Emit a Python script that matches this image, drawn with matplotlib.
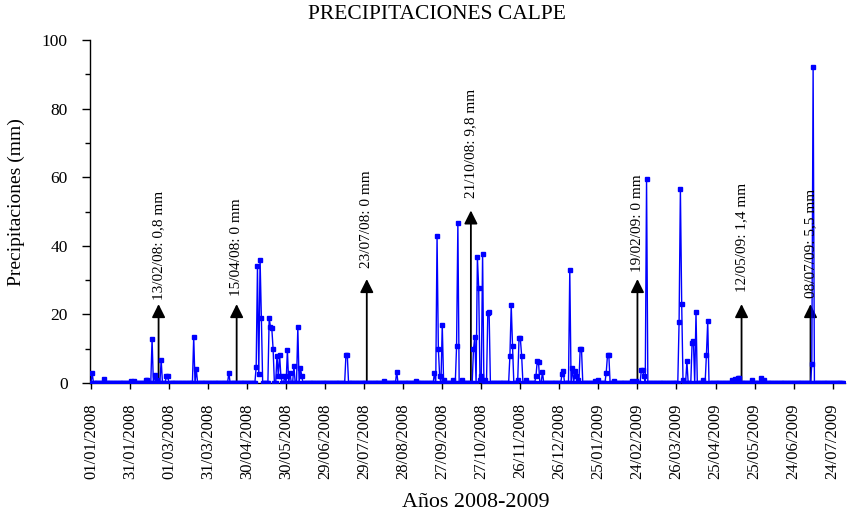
import matplotlib
matplotlib.use("Agg")
import matplotlib.pyplot as plt
import matplotlib.dates as mdates
import numpy as np
import pandas as pd

plt.rcParams['font.family'] = ['Liberation Serif', 'DejaVu Serif']

# daily record, days not listed are 0 mm
start = "2008-01-01"
end = "2009-08-01"

rain_dates = [
    "2008-01-02", "2008-01-11", "2008-02-01", "2008-02-03", "2008-02-12", "2008-02-13",
    "2008-02-17", "2008-02-19", "2008-02-21", "2008-02-24", "2008-02-28", "2008-02-29",
    "2008-03-20", "2008-03-22", "2008-04-16", "2008-05-07", "2008-05-08", "2008-05-09",
    "2008-05-10", "2008-05-11", "2008-05-17", "2008-05-18", "2008-05-19", "2008-05-20",
    "2008-05-23", "2008-05-24", "2008-05-25", "2008-05-26", "2008-05-29", "2008-05-31",
    "2008-06-02", "2008-06-05", "2008-06-08", "2008-06-10", "2008-06-11", "2008-07-15",
    "2008-07-16", "2008-08-13", "2008-08-23", "2008-09-07", "2008-09-21", "2008-09-23",
    "2008-09-24", "2008-09-25", "2008-09-27", "2008-09-28", "2008-10-05", "2008-10-08",
    "2008-10-09", "2008-10-12", "2008-10-21", "2008-10-22", "2008-10-24", "2008-10-25",
    "2008-10-26", "2008-10-27", "2008-10-28", "2008-10-30", "2008-11-01", "2008-11-02",
    "2008-11-18", "2008-11-19", "2008-11-20", "2008-11-24", "2008-11-25", "2008-11-26",
    "2008-11-27", "2008-11-30", "2008-12-08", "2008-12-09", "2008-12-10", "2008-12-13",
    "2008-12-28", "2008-12-29", "2009-01-03", "2009-01-05", "2009-01-07", "2009-01-08",
    "2009-01-09", "2009-01-11", "2009-01-12", "2009-01-22", "2009-01-25", "2009-01-31",
    "2009-02-01", "2009-02-02", "2009-02-06", "2009-02-20", "2009-02-23", "2009-02-27",
    "2009-02-28", "2009-03-01", "2009-03-03", "2009-03-28", "2009-03-29", "2009-03-30",
    "2009-03-31", "2009-04-03", "2009-04-07", "2009-04-08", "2009-04-10", "2009-04-15",
    "2009-04-18", "2009-04-19", "2009-05-08", "2009-05-10", "2009-05-12", "2009-05-13",
    "2009-05-23", "2009-05-30", "2009-06-01", "2009-07-08", "2009-07-09",
]
rain_mm = [
    2.8, 1.2, 0.5, 0.5, 1.0, 0.8,
    12.8, 2.3, 1.0, 6.7, 2.0, 1.9,
    13.4, 4.0, 3.0, 4.7, 34.0, 2.5,
    36.0, 19.0, 19.0, 16.3, 16.0, 10.0,
    8.0, 2.0, 8.2, 2.0, 2.0, 9.6,
    3.0, 5.0, 16.3, 4.5, 2.0, 8.3,
    8.3, 0.5, 3.3, 0.5, 3.0, 43.0,
    10.0, 2.0, 17.0, 1.0, 1.0, 10.7,
    46.6, 1.0, 9.8, 13.5, 36.7, 27.7,
    1.0, 2.0, 37.6, 1.0, 20.3, 20.8,
    8.0, 22.7, 10.8, 1.0, 13.0, 13.0,
    8.0, 1.0, 2.0, 6.4, 6.0, 3.3,
    2.5, 3.4, 33.0, 4.5, 3.5, 2.0,
    1.0, 10.0, 10.0, 0.5, 1.0, 3.0,
    8.2, 8.2, 0.5, 0.5, 0.5, 3.8,
    3.8, 2.0, 59.5, 17.8, 56.7, 23.0,
    1.0, 6.3, 11.8, 12.3, 20.6, 1.0,
    8.2, 18.0, 1.0, 1.2, 1.4, 1.5,
    1.0, 1.5, 1.0, 5.5, 92.0,
]

# arrows with notes
note_labels = ["13/02/08: 0,8 mm", "15/04/08: 0 mm", "23/07/08: 0 mm", "21/10/08: 9,8 mm",
               "19/02/09: 0 mm", "12/05/09: 1,4 mm", "08/07/09: 5,5 mm"]
note_dates = ["2008-02-22", "2008-04-22", "2008-07-31", "2008-10-19",
              "2009-02-24", "2009-05-15", "2009-07-07"]
note_tip = [23.0, 23.0, 30.3, 50.3, 30.3, 23.0, 23.0]
note_text_y = [24.3, 25.5, 33.5, 54.0, 32.5, 26.5, 24.8]

days = pd.date_range(start, end, freq="D")
serie = pd.Series(rain_mm, index=pd.to_datetime(rain_dates)).reindex(days, fill_value=0.0)

fig = plt.figure(figsize=(8.66, 5.23), dpi=100)
ax = fig.add_axes([90 / 866, 1 - 383 / 523, 755 / 866, 343 / 523])

ax.plot(serie.index, serie.values, color="#0000ff", lw=1.0, marker="s", ms=2.8,
        mec="#0000ff", mfc="#0000ff", zorder=3)

for lab, d, tip, ty in zip(note_labels, note_dates, note_tip, note_text_y):
    d = pd.Timestamp(d)
    ax.annotate("", xy=(d, tip), xytext=(d, 0.3),
                arrowprops=dict(arrowstyle="-|>", mutation_scale=20, color="black",
                                lw=1.3, shrinkA=0, shrinkB=0), zorder=2)
    ax.text(d, ty, lab, rotation=90, ha="center", va="bottom", fontsize=11)

x0 = mdates.date2num(pd.Timestamp(start))
ax.set_xlim(x0 - 0.7, mdates.date2num(pd.Timestamp("2009-08-02")) + 0.5)
ax.set_ylim(0, 100)

tick_days = pd.date_range(start, "2009-07-24", freq="30D")
ax.set_xticks(tick_days)
ax.set_xticklabels([t.strftime("%d/%m/%Y") for t in tick_days], rotation=90, fontsize=12)
ax.set_yticks(np.arange(0, 101, 20))
ax.set_yticks(np.arange(10, 100, 20), minor=True)
ax.tick_params(axis="y", labelsize=12.5, length=6, width=1, pad=10)
ax.tick_params(axis="y", which="minor", length=3.6, width=1)
ax.tick_params(axis="x", length=4.5, width=1, pad=10)

for s in ["top", "right"]:
    ax.spines[s].set_visible(False)
for s in ["left", "bottom"]:
    ax.spines[s].set_linewidth(1.0)

fig.text(0.505, 0.973, "PRECIPITACIONES CALPE", ha="center", va="center", fontsize=15.5)
fig.text(0.549, 0.04, "Años 2008-2009", ha="center", va="center", fontsize=15.8)
fig.text(0.0193, 0.614, "Precipitaciones (mm)", rotation=90, ha="center", va="center", fontsize=14)

fig.savefig("out.png", dpi=100)
